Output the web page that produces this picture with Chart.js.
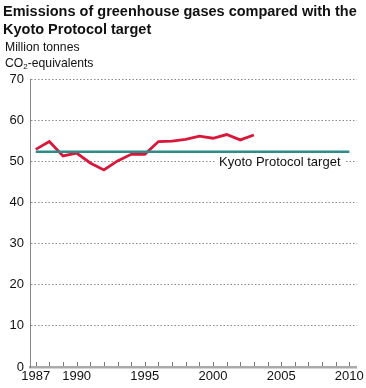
<!DOCTYPE html>
<html>
<head>
<meta charset="utf-8">
<script src="https://cdn.jsdelivr.net/npm/chart.js@4/dist/chart.umd.min.js"></script>
<style>
  body { margin: 0; background: #fff; font-family: "Liberation Sans", Arial, sans-serif; }
  #wrap { position: relative; width: 366px; height: 388px; }
  #title { position: absolute; left: 3px; top: 2px; font-size: 14.5px; font-weight: bold; line-height: 18px; color: #111; white-space: nowrap; }
  #unit { position: absolute; left: 5px; top: 39px; font-size: 12.2px; line-height: 16px; color: #111; }
  #unit sub { font-size: 8px; vertical-align: -2px; line-height: 0; }
  canvas { position: absolute; left: 0; top: 0; }
</style>
</head>
<body>
<div id="wrap">
  <canvas id="chart" width="366" height="388"></canvas>
  <div id="title">Emissions of greenhouse gases compared with the<br>Kyoto Protocol target</div>
  <div id="unit">Million tonnes<br>CO<sub>2</sub>-equivalents</div>
</div>
<script>
// data
const years = [1987, 1988, 1989, 1990, 1991, 1992, 1993, 1994, 1995, 1996, 1997, 1998, 1999, 2000, 2001, 2002, 2003];
const emissions = [52.9, 54.8, 51.3, 52.0, 49.6, 47.9, 50.1, 51.7, 51.7, 54.8, 54.9, 55.3, 56.1, 55.6, 56.5, 55.2, 56.4];
const targetYears = [1987, 2010];
const kyotoTarget = 52.3;
const targetLabel = 'Kyoto Protocol target';
const xTickLabels = [1987, 1990, 1995, 2000, 2005, 2010];
const yTicks = [0, 10, 20, 30, 40, 50, 60, 70];

// small year ticks standing up from the x axis, plus the target label
const extras = {
    id: 'extras',
    afterDraw(chart) {
        const { ctx, scales: { x, y } } = chart;
        ctx.save();
        ctx.strokeStyle = '#777';
        ctx.lineWidth = 1;
        const y0 = y.getPixelForValue(0);
        for (let yr = targetYears[0]; yr <= targetYears[1]; yr++) {
            const px = Math.round(x.getPixelForValue(yr)) + 0.5;
            ctx.beginPath();
            ctx.moveTo(px, y0 - 1);
            ctx.lineTo(px, y0 - 5);
            ctx.stroke();
        }
        // label sits on the 50 gridline
        ctx.font = '13px "Liberation Sans", Arial, sans-serif';
        const w = ctx.measureText(targetLabel).width;
        const cx = x.getPixelForValue(2004.9);
        const cy = y.getPixelForValue(50);
        ctx.fillStyle = '#fff';
        ctx.fillRect(cx - w / 2 - 4, cy - 7, w + 8, 14);
        ctx.fillStyle = '#111';
        ctx.textAlign = 'center';
        ctx.textBaseline = 'middle';
        ctx.fillText(targetLabel, cx, cy + 1);
        ctx.restore();
    }
};

new Chart(document.getElementById('chart'), {
    type: 'line',
    data: {
        datasets: [{
            data: targetYears.map(yr => ({ x: yr, y: kyotoTarget })),
            borderColor: '#2b8c8a',
            borderWidth: 2.5,
            pointRadius: 0
        }, {
            data: years.map((yr, i) => ({ x: yr, y: emissions[i] })),
            borderColor: '#d8173a',
            borderWidth: 2.8,
            pointRadius: 0,
            tension: 0
        }]
    },
    options: {
        responsive: false,
        animation: false,
        layout: { padding: { top: 79, right: 9, left: 0, bottom: 0 } },
        plugins: { legend: { display: false }, tooltip: { enabled: false } },
        scales: {
            x: {
                type: 'linear',
                min: 1986.58,
                max: 2010.55,
                afterBuildTicks: s => { s.ticks = xTickLabels.map(v => ({ value: v })); },
                afterFit: s => { s.height = 21; },
                ticks: {
                    autoSkip: false,
                    maxRotation: 0,
                    padding: 2,
                    color: '#111',
                    font: { family: '"Liberation Sans", Arial, sans-serif', size: 13 },
                    callback: v => String(v)
                },
                grid: { display: false, drawTicks: false },
                border: { color: '#aaa', width: 2.5 }
            },
            y: {
                min: 0,
                max: 70,
                afterBuildTicks: s => { s.ticks = yTicks.map(v => ({ value: v })); },
                afterFit: s => { s.width = 30; },
                ticks: {
                    padding: 6,
                    color: '#111',
                    font: { family: '"Liberation Sans", Arial, sans-serif', size: 13 }
                },
                grid: {
                    color: ctx => ctx.tick.value === 0 ? 'rgba(0,0,0,0)' : '#888',
                    lineWidth: 1,
                    drawTicks: false
                },
                border: { color: '#888', width: 1, dash: [1.5, 2] }
            }
        }
    },
    plugins: [extras]
});
</script>
</body>
</html>
